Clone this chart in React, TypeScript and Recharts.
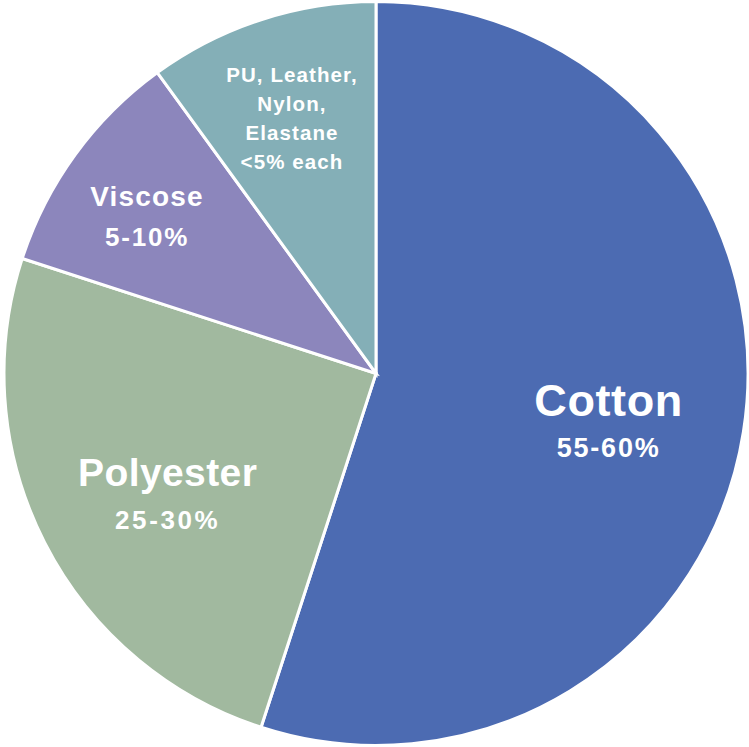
import { PieChart, Pie, Cell } from 'recharts';

const materials = ['Cotton', 'Polyester', 'Viscose', 'PU, Leather, Nylon, Elastane'];
const shares = [55, 25, 10, 10];
const shareLabels = ['55-60%', '25-30%', '5-10%', '<5% each'];
const colors = ['#4C6BB2', '#A1B99F', '#8C86BC', '#84AFB7'];

// label placement tweaks: radius fraction, angle nudge (deg), font sizes, letter spacing
const labelStyle = [
  { r: 0.64, nudge: -3.3, title: 45, titleLs: 0.6, sub: 27, subLs: 1.8, gap: 48 },
  { r: 0.65, nudge: 3.5, title: 39, titleLs: 0.4, sub: 26, subLs: 2.6, gap: 48 },
  { r: 0.746, nudge: 1.6, title: 28, titleLs: 1.2, sub: 26, subLs: 1.8, gap: 40 },
  { r: 0.723, nudge: 0.2, title: 20.5, titleLs: 1.1, sub: 20.5, subLs: 1.1, gap: 29 },
];

const data = materials.map((name, i) => ({ name, value: shares[i], share: shareLabels[i] }));

const RAD = Math.PI / 180;

function renderLabel(props: any) {
  const { cx, cy, midAngle, outerRadius, index } = props;
  const s = labelStyle[index];
  const a = (midAngle + s.nudge) * RAD;
  const x = cx + outerRadius * s.r * Math.cos(-a);
  const y = cy + outerRadius * s.r * Math.sin(-a);
  const font = { fontFamily: '"Liberation Sans", Arial, sans-serif', fontWeight: 700, fill: '#fff' };

  if (index === 3) {
    const lines = ['PU, Leather,', 'Nylon,', 'Elastane', shareLabels[3]];
    const top = y - (s.gap * (lines.length - 1)) / 2;
    return (
      <text x={x} y={top} textAnchor="middle" dominantBaseline="central" fontSize={s.title} letterSpacing={s.titleLs} {...font}>
        {lines.map((l, k) => (
          <tspan key={k} x={x} y={top + k * s.gap}>{l}</tspan>
        ))}
      </text>
    );
  }

  return (
    <g>
      <text x={x} y={y - s.gap / 2} textAnchor="middle" dominantBaseline="central" fontSize={s.title} letterSpacing={s.titleLs} {...font}>
        {data[index].name}
      </text>
      <text x={x} y={y + s.gap / 2} textAnchor="middle" dominantBaseline="central" fontSize={s.sub} letterSpacing={s.subLs} {...font}>
        {data[index].share}
      </text>
    </g>
  );
}

export default function App() {
  return (
    <div style={{ position: 'absolute', left: 0, top: 0, width: 749, height: 747, background: '#fff' }}>
      <PieChart width={749} height={747} margin={{ top: 0, right: 0, bottom: 0, left: 0 }}>
        <Pie
          data={data}
          dataKey="value"
          nameKey="name"
          cx={376}
          cy={373.5}
          outerRadius={372}
          startAngle={90}
          endAngle={-270}
          stroke="#fff"
          strokeWidth={3}
          label={renderLabel}
          labelLine={false}
          isAnimationActive={false}
        >
          {data.map((d, i) => (
            <Cell key={d.name} fill={colors[i]} />
          ))}
        </Pie>
      </PieChart>
    </div>
  );
}
